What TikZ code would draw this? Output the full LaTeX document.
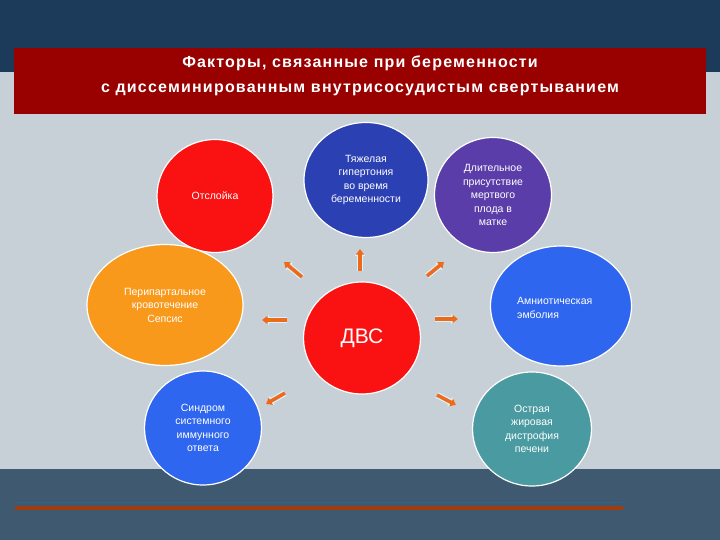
\documentclass[tikz,border=0pt]{standalone}
\usepackage{fontspec}
\setmainfont{Liberation Sans}
\newfontfamily\titlefont[LetterSpace=7.5]{Liberation Sans}
\usetikzlibrary{arrows.meta,shapes.geometric}
\definecolor{topblue}{HTML}{1C3B5A}
\definecolor{midgray}{HTML}{C8D0D7}
\definecolor{botslate}{HTML}{3F5A70}
\definecolor{titlered}{HTML}{990000}
\definecolor{cred}{HTML}{FA1212}
\definecolor{cdblue}{HTML}{2B40B3}
\definecolor{cpurple}{HTML}{5A3DA8}
\definecolor{corange}{HTML}{F8991C}
\definecolor{cblue}{HTML}{2F66F0}
\definecolor{cteal}{HTML}{4A9AA2}
\definecolor{arrorange}{HTML}{EE6A1A}
\definecolor{linebrown}{HTML}{A23C0C}
\definecolor{lineblue}{HTML}{2F6688}
\begin{document}
\begin{tikzpicture}[x=1pt,y=-1pt,
  circ/.style={ellipse, draw=white, line width=1.2pt, text=white, inner sep=0pt,
    font=\fontsize{10.5}{13.5}\selectfont, align=center},
  arrbg/.style={draw=white!85!cyan, line width=6pt, -{Triangle[length=7pt,width=10pt]}},
  arrfg/.style={draw=arrorange, line width=3.6pt, -{Triangle[length=5.5pt,width=8pt]}}
]
\useasboundingbox (0,0) rectangle (720,540);
% background
\fill[midgray] (0,0) rectangle (720,540);
\fill[topblue] (0,0) rectangle (720,72);
\fill[botslate] (0,469) rectangle (720,540);
\draw[lineblue, line width=1.5pt] (15,502.5) -- (623,502.5);
\draw[linebrown, line width=3.5pt] (15,508) -- (623,508);
% title
\node[fill=titlered, minimum width=692pt, minimum height=66pt, inner sep=0pt] (title) at (360,81) {};
\node[text=white, inner sep=0pt, font=\titlefont\bfseries\fontsize{16}{25}\selectfont, align=center]
  (titletext) at (360,76) {Факторы, связанные при беременности\\с диссеминированным внутрисосудистым свертыванием};
% circles
\node[circ, fill=cred, minimum width=116pt, minimum height=113pt] (otsl) at (215,196) {Отслойка};
\node[circ, fill=cdblue, minimum width=124pt, minimum height=115pt] (gip) at (366,180)
  {Тяжелая\\гипертония\\во время\\беременности};
\node[circ, fill=cpurple, minimum width=117pt, minimum height=115pt] (plod) at (493,195)
  {Длительное\\присутствие\\мертвого\\плода в\\матке};
\node[circ, fill=corange, minimum width=156pt, minimum height=121pt] (kro) at (165,305)
  {Перипартальное\\кровотечение\\Сепсис};
\node[circ, fill=cred, minimum width=117pt, minimum height=112pt, font=\fontsize{21}{24}\selectfont] (dvs) at (362,338) {ДВС};
\node[circ, fill=cblue, minimum width=141pt, minimum height=120pt] (amn) at (561,306) {};
\node[text=white, font=\fontsize{10.5}{13.5}\selectfont, align=left, anchor=west, inner sep=0pt] (amnt) at (517,308)
  {Амниотическая\\эмболия};
\node[circ, fill=cblue, minimum width=117pt, minimum height=114pt] (sind) at (203,428)
  {Синдром\\системного\\иммунного\\ответа};
\node[circ, fill=cteal, minimum width=119pt, minimum height=114pt] (ostr) at (532,429)
  {Острая\\жировая\\дистрофия\\печени};
% arrows
\coordinate (a1s) at (360,271); \coordinate (a1e) at (360,249);
\coordinate (a2s) at (302,277); \coordinate (a2e) at (284,262);
\coordinate (a3s) at (427,276); \coordinate (a3e) at (444,262);
\coordinate (a4s) at (287,320); \coordinate (a4e) at (262,320);
\coordinate (a5s) at (435,319); \coordinate (a5e) at (458,319);
\coordinate (a6s) at (285,393); \coordinate (a6e) at (266,404);
\coordinate (a7s) at (437,395); \coordinate (a7e) at (456,405);
\foreach \i in {1,...,7} {
  \draw[arrbg] (a\i s) -- (a\i e);
  \draw[arrfg] (a\i s) -- (a\i e);
}
\end{tikzpicture}
\end{document}
